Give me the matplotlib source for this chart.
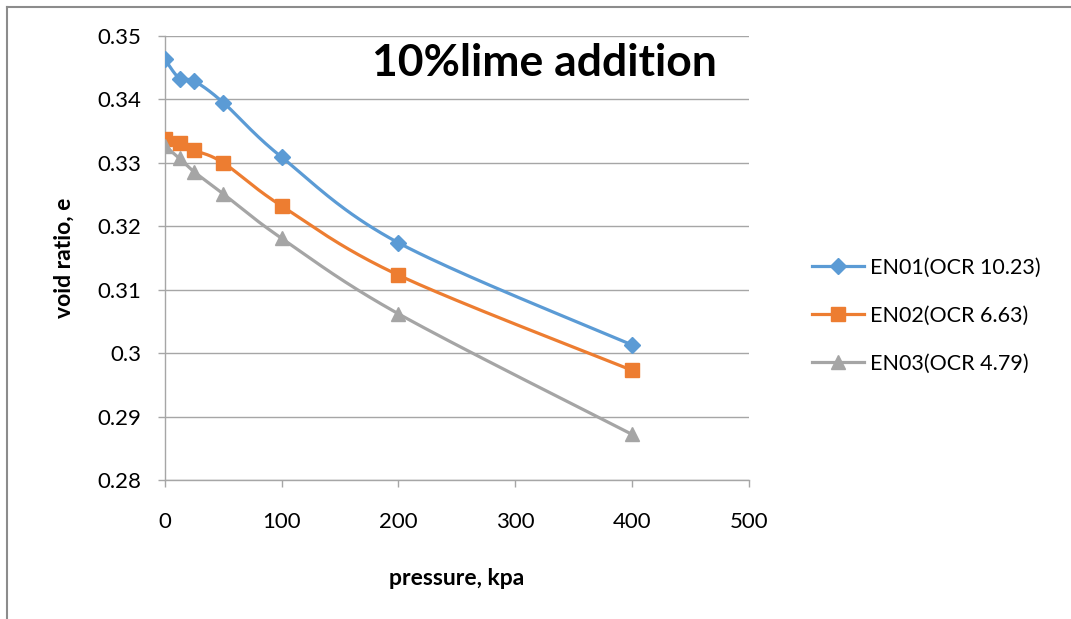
import numpy as np
import matplotlib
matplotlib.use("Agg")
import matplotlib.pyplot as plt
from matplotlib.lines import Line2D

# consolidation test data (void ratio vs pressure)
pressure = [0, 12.5, 25, 50, 100, 200, 400]
en01 = [0.3463, 0.3433, 0.3429, 0.3395, 0.3309, 0.3174, 0.3013]
en02 = [0.3337, 0.3331, 0.3320, 0.3300, 0.3232, 0.3123, 0.2973]
en03 = [0.3327, 0.3307, 0.3286, 0.3251, 0.3181, 0.3062, 0.2872]
series_names = ["EN01(OCR 10.23)", "EN02(OCR 6.63)", "EN03(OCR 4.79)"]
y_ticks = [0.28, 0.29, 0.30, 0.31, 0.32, 0.33, 0.34, 0.35]
y_tick_labels = ["0.28", "0.29", "0.3", "0.31", "0.32", "0.33", "0.34", "0.35"]
x_ticks = [0, 100, 200, 300, 400, 500]

plt.rcParams['font.family'] = ['Lato', 'DejaVu Sans']


#smooth line through the points (bezier segments, catmull-rom style)
def smooth(x, y, n=40):
	pts = np.column_stack([x, y]).astype(float)
	p = np.vstack([pts[0], pts, pts[-1]])
	t = np.linspace(0, 1, n)[:, None]
	out = []
	for i in range(1, len(p) - 2):
		p0, p1, p2, p3 = p[i - 1], p[i], p[i + 1], p[i + 2]
		c1 = p1 + (p2 - p0) / 6
		c2 = p2 - (p3 - p1) / 6
		seg = (1 - t)**3 * p1 + 3 * (1 - t)**2 * t * c1 + 3 * (1 - t) * t**2 * c2 + t**3 * p2
		out.append(seg)
	out = np.vstack(out)
	return out[:, 0], out[:, 1]


fig = plt.figure(figsize=(10.71, 6.19), dpi=100)
ax = fig.add_axes([0.154, 0.2246, 0.545, 0.7172])

colors = ["#5B9BD5", "#ED7D31", "#A5A5A5"]
markers = ["D", "s", "^"]
sizes = [8, 10, 10]
for vals, name, c, m, ms in zip([en01, en02, en03], series_names, colors, markers, sizes):
	sx, sy = smooth(pressure, vals)
	ax.plot(sx, sy, color=c, lw=2.3, zorder=3)
	ax.plot(pressure, vals, ls="none", marker=m, ms=ms, color=c, zorder=4)
	ax.plot([], [], color=c, lw=2.3, marker=m, ms=ms, label=name)

ax.set_xlim(0, 500)
ax.set_ylim(0.28, 0.35)
ax.set_xticks(x_ticks)
ax.set_yticks(y_ticks)
ax.set_yticklabels(y_tick_labels)
ax.tick_params(axis='both', labelsize=16, color="#a6a6a6", length=5, width=1)
ax.tick_params(axis='x', pad=18)
ax.tick_params(axis='y', pad=12)
ax.yaxis.grid(True, color="#a6a6a6", lw=1)
ax.set_axisbelow(True)
for s in ["top", "right"]:
	ax.spines[s].set_visible(False)
for s in ["left", "bottom"]:
	ax.spines[s].set_color("#a6a6a6")
	ax.spines[s].set_linewidth(1)

ax.set_xlabel("pressure, kpa", fontsize=16.5, fontweight="bold", labelpad=26)
ax.set_ylabel("void ratio, e", fontsize=16.5, fontweight="bold", labelpad=16)
ax.text(0.354, 0.94, "10%lime addition", transform=ax.transAxes, fontsize=32,
	fontweight="bold", va="center", ha="left")

fig.legend(loc="center left", bbox_to_anchor=(0.740, 0.49), frameon=False,
	fontsize=15.5, handlelength=2.4, labelspacing=1.3, handletextpad=0.3)

# outer frame, top and left edges only
fig.add_artist(Line2D([0.0065, 1.0], [0.989, 0.989], color="#8c8c8c", lw=1.5))
fig.add_artist(Line2D([0.0065, 0.0065], [0.0, 0.989], color="#8c8c8c", lw=1.5))

fig.savefig("out.png", dpi=100)
